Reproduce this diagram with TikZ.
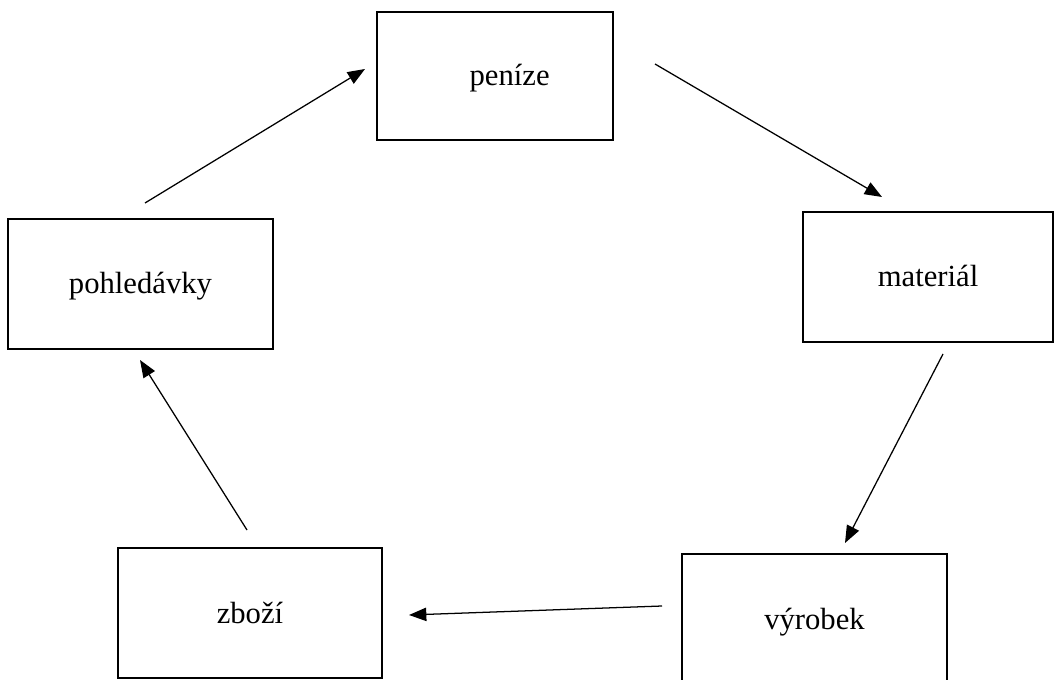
\documentclass[tikz,border=0pt]{standalone}
\usepackage{fontspec}
\setmainfont{Liberation Serif}
\usetikzlibrary{arrows.meta}

\begin{document}
\begin{tikzpicture}[x=0.75pt,y=-0.75pt,
    box/.style={draw,line width=1.1pt,inner sep=0pt,text height=19pt,text depth=4pt,
      font=\fontsize{23}{28}\selectfont},
    flow/.style={line width=0.95pt,-{Triangle[length=13pt,width=10pt]}}]
      \useasboundingbox (0,0) rectangle (1055,680);

      \node[box,minimum width=177pt,minimum height=96pt] (penize) at (495,76) {\hspace*{22pt}peníze};
      \node[box,minimum width=187.5pt,minimum height=97.5pt] (material) at (928,277) {materiál};
      \node[box,minimum width=198.75pt,minimum height=97.5pt] (vyrobek) at (814.5,619) {výrobek};
      \node[box,minimum width=198pt,minimum height=97.5pt] (zbozi) at (250,613) {zboží};
      \node[box,minimum width=198.75pt,minimum height=97.5pt] (pohledavky) at (140.5,284) {pohledávky};

      \coordinate (p_out) at (655,64);
      \coordinate (m_in) at (882,197);
      \coordinate (m_out) at (943,354);
      \coordinate (v_in) at (845,543);
      \coordinate (v_out) at (662,606);
      \coordinate (z_in) at (409,615);
      \coordinate (z_out) at (247,530);
      \coordinate (h_in) at (140,360);
      \coordinate (h_out) at (145,203);
      \coordinate (p_in) at (365,69);

      \draw[flow] (p_out) -- (m_in);
      \draw[flow] (m_out) -- (v_in);
      \draw[flow] (v_out) -- (z_in);
      \draw[flow] (z_out) -- (h_in);
      \draw[flow] (h_out) -- (p_in);
\end{tikzpicture}
\end{document}
